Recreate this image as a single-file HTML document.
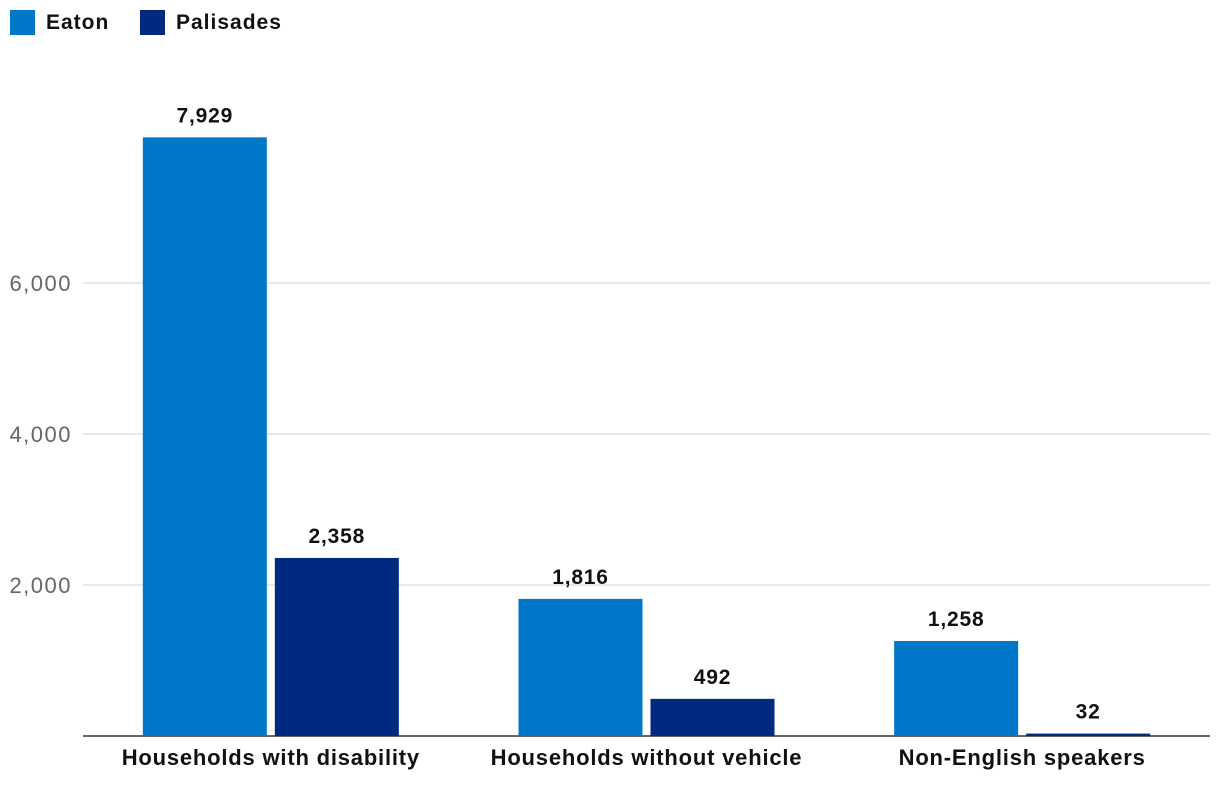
<!DOCTYPE html>
<html><head><meta charset="utf-8"><style>
body{margin:0;background:#fff;font-family:"Liberation Sans",sans-serif;}
</style></head><body>
<svg id="chart" width="1220" height="788">
  <g>
    <rect x="10" y="10" width="25" height="25" fill="#0077c8"/>
    <text x="46" y="29" font-size="21" font-weight="bold" letter-spacing="1" fill="#111">Eaton</text>
    <rect x="140" y="10" width="25" height="25" fill="#002a80"/>
    <text x="176" y="29" font-size="21" font-weight="bold" letter-spacing="1" fill="#111">Palisades</text>
  </g>
  <g id="grid"></g><g id="bars"></g><g id="labels"></g>
</svg>
<script>
const categories=["Households with disability","Households without vehicle","Non-English speakers"];
const eaton=[7929,1816,1258];
const palisades=[2358,492,32];
const ticks=[2000,4000,6000];
const tickLabels=["2,000","4,000","6,000"];
const ns="http://www.w3.org/2000/svg";
const x0=83,x1=1210,y0=736,pxPerUnit=151/2000;
const y=v=>y0-v*pxPerUnit;
const bw=(x1-x0)/categories.length;
const cx=i=>x0+bw*(i+0.5);
function mk(tag,attrs,parent,text){const e=document.createElementNS(ns,tag);for(const k in attrs)e.setAttribute(k,attrs[k]);if(text!==undefined)e.textContent=text;document.getElementById(parent).appendChild(e);return e;}
ticks.forEach((t,i)=>{
  const l=mk("line",{x1:x0,x2:x1,y1:y(t),y2:y(t),stroke:"#d0d0d0","stroke-width":1},"grid");
  
  
  const tx=mk("text",{x:72,y:y(t)+8,"text-anchor":"end","font-size":22,"letter-spacing":1.5,fill:"#666"},"grid",tickLabels[i]);
  
  
});
const ax=mk("line",{x1:x0,x2:x1,y1:y0,y2:y0,stroke:"#333","stroke-width":1.5},"grid");


const fmt=v=>v.toLocaleString("en-US");
categories.forEach((c,i)=>{
  [[eaton[i],"#0077c8",-128,"eaton"],[palisades[i],"#002a80",4,"palisades"]].forEach(([v,col,off,nm])=>{
    const bx=cx(i)+off;
    const r=mk("rect",{x:bx,y:y(v),width:124,height:y0-y(v),fill:col},"bars");
    
    
    const t=mk("text",{x:bx+62,y:y(v)-15,"text-anchor":"middle","font-size":21,"letter-spacing":0.8,"font-weight":"bold",fill:"#111"},"labels",fmt(v));
    
    
  });
  const ct=mk("text",{x:cx(i),y:765,"text-anchor":"middle","font-size":22,"letter-spacing":0.8,"font-weight":"bold",fill:"#111"},"labels",c);
  
  
});
</script>
</body></html>
